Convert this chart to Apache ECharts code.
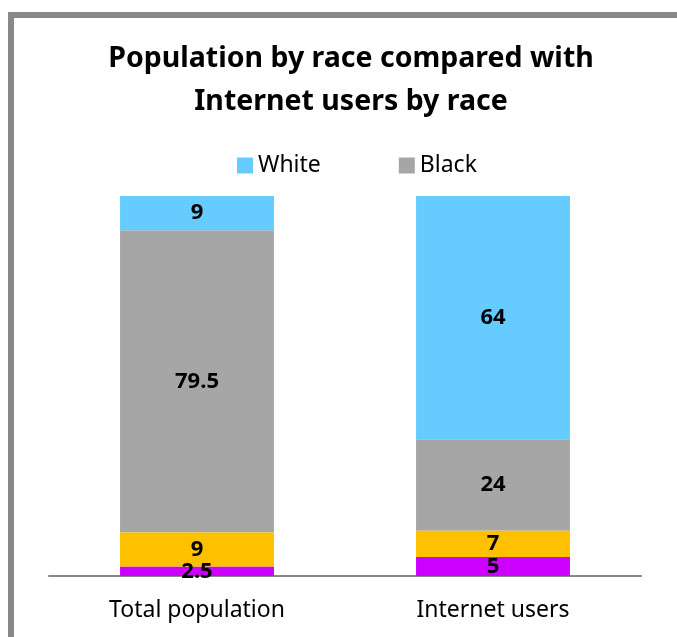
<!DOCTYPE html>
<html><head><meta charset="utf-8">
<script src="https://cdn.jsdelivr.net/npm/echarts@6/dist/echarts.min.js"></script>
<style>html,body{margin:0;padding:0;background:#fff}#c{width:677px;height:637px}</style>
</head><body><div id="c"></div>
<script>
const categories = ['Total population', 'Internet users'];
const seriesNames = ['Other', 'Asian', 'Black', 'White'];
const otherValues = [2.5, 5];
const asianValues = [9, 7];
const blackValues = [79.5, 24];
const whiteValues = [9, 64];
const legendNames = ['White', 'Black'];

const colors = {Other: '#CC00FF', Asian: '#FFC000', Black: '#A6A6A6', White: '#66CCFF'};
const valuesByName = {Other: otherValues, Asian: asianValues, Black: blackValues, White: whiteValues};
const font = 'Noto Sans';

const chart = echarts.init(document.getElementById('c'), null, {renderer: 'canvas'});
chart.setOption({
  animation: false,
  title: {
    text: 'Population by race compared with\nInternet users by race',
    left: 346, textAlign: 'center', top: 32,
    textStyle: {fontFamily: font, fontSize: 28.5, fontWeight: 'bold', color: '#000', lineHeight: 43}
  },
  legend: {
    data: legendNames, top: 149, left: 232, itemGap: 78,
    itemWidth: 16, itemHeight: 16, icon: 'rect',
    textStyle: {fontFamily: font, fontSize: 23, color: '#000'}
  },
  grid: {left: 49, right: 36, top: 196, bottom: 61},
  xAxis: {
    type: 'category', data: categories,
    axisLine: {lineStyle: {color: '#888', width: 2}},
    axisTick: {show: false},
    axisLabel: {fontFamily: font, fontSize: 23, color: '#000', margin: 23}
  },
  yAxis: {type: 'value', min: 0, max: 100, show: false, splitLine: {show: false}},
  series: seriesNames.map(n => ({
    name: n, type: 'bar', stack: 'all', barWidth: '52%',
    data: valuesByName[n],
    itemStyle: {color: colors[n]},
    label: {show: true, position: 'inside', fontFamily: font, fontSize: 22, fontWeight: 'bold', color: '#000'}
  })),
  graphic: [{
    type: 'rect', shape: {x: 11, y: 15, width: 800, height: 800},
    style: {fill: 'none', stroke: '#888', lineWidth: 6}, z: 100
  }]
});
</script></body></html>
